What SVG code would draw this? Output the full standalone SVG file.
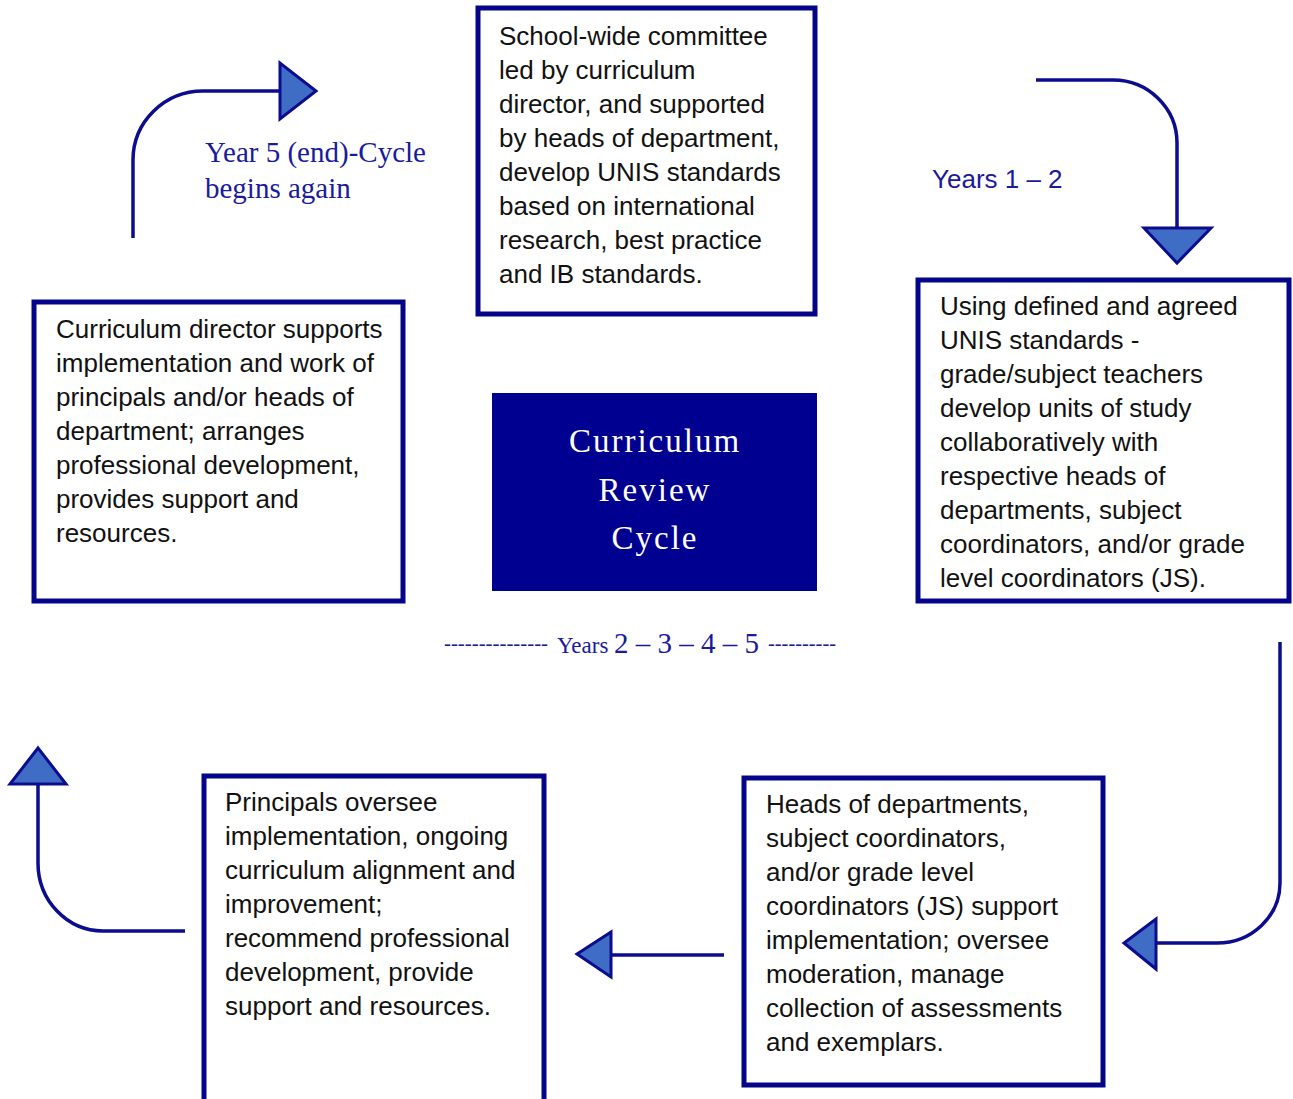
<svg xmlns="http://www.w3.org/2000/svg" width="1293" height="1099" viewBox="0 0 1293 1099">
<style>
.box{fill:#ffffff;stroke:#05058a;stroke-width:5}
.t{font-family:"Liberation Sans",Arial,sans-serif;font-size:26px;fill:#111111}
.lbl{font-family:"Liberation Serif","Times New Roman",serif;fill:#1a1a9c}
.lbls{font-family:"Liberation Sans",Arial,sans-serif;fill:#1a1a9c}
.ln{fill:none;stroke:#0c0c8e;stroke-width:3.5}
.head{fill:#3f6cc4;stroke:#0c0c8e;stroke-width:3;stroke-linejoin:miter}
.ctr{font-family:"Liberation Serif","Times New Roman",serif;font-size:33px;fill:#ffffff;letter-spacing:2px}
</style>
<rect width="1293" height="1099" fill="#ffffff"/>

<g id="connectors">
  <path class="ln" d="M133,238 V160 A70,69 0 0 1 203,91 H282"/>
  <polygon class="head" points="280,63 280,119 316,91"/>
  <path class="ln" d="M1036,80 H1113 A64,63 0 0 1 1177,143 V229"/>
  <polygon class="head" points="1144,228 1211,228 1177,263"/>
  <path class="ln" d="M1280,642 V883 A63,60 0 0 1 1217,943 H1157"/>
  <polygon class="head" points="1156,919 1156,969 1124,943"/>
  <path class="ln" d="M724,955 H611"/>
  <polygon class="head" points="611,932 611,977 577,954"/>
  <path class="ln" d="M185,931 H103 A65,68 0 0 1 38,863 V785"/>
  <polygon class="head" points="10,784 66,784 38,748"/>
</g>

<g id="label-year5">
  <text class="lbl" font-size="29" x="205" y="162">Year 5 (end)-Cycle</text>
  <text class="lbl" font-size="29" x="205" y="198">begins again</text>
</g>
<g id="label-years12">
  <text class="lbls" font-size="26" x="932" y="188">Years 1 – 2</text>
</g>
<g id="label-years2345">
  <text class="lbl" font-size="20" x="444" y="650" textLength="104" lengthAdjust="spacingAndGlyphs">---------------</text>
  <text class="lbl" x="557" y="653"><tspan font-size="23">Years </tspan><tspan font-size="29">2 – 3 – 4 – 5</tspan></text>
  <text class="lbl" font-size="20" x="768" y="650" textLength="68" lengthAdjust="spacingAndGlyphs">----------</text>
</g>

<g id="node-top">
  <rect class="box" x="478" y="8" width="337" height="306"/>
  <text class="t" x="499" y="45">School-wide committee</text>
  <text class="t" x="499" y="79">led by curriculum</text>
  <text class="t" x="499" y="113">director, and supported</text>
  <text class="t" x="499" y="147">by heads of department,</text>
  <text class="t" x="499" y="181">develop UNIS standards</text>
  <text class="t" x="499" y="215">based on international</text>
  <text class="t" x="499" y="249">research, best practice</text>
  <text class="t" x="499" y="283">and IB standards.</text>
</g>

<g id="node-left">
  <rect class="box" x="34" y="302" width="369" height="299"/>
  <text class="t" x="56" y="338">Curriculum director supports</text>
  <text class="t" x="56" y="372">implementation and work of</text>
  <text class="t" x="56" y="406">principals and/or heads of</text>
  <text class="t" x="56" y="440">department; arranges</text>
  <text class="t" x="56" y="474">professional development,</text>
  <text class="t" x="56" y="508">provides support and</text>
  <text class="t" x="56" y="542">resources.</text>
</g>

<g id="node-center">
  <rect x="492" y="393" width="325" height="198" fill="#000090"/>
  <text class="ctr" x="655" y="452" text-anchor="middle">Curriculum</text>
  <text class="ctr" x="655" y="501" text-anchor="middle">Review</text>
  <text class="ctr" x="655" y="549" text-anchor="middle">Cycle</text>
</g>

<g id="node-right">
  <rect class="box" x="918" y="280" width="371" height="321"/>
  <text class="t" x="940" y="315">Using defined and agreed</text>
  <text class="t" x="940" y="349">UNIS standards -</text>
  <text class="t" x="940" y="383">grade/subject teachers</text>
  <text class="t" x="940" y="417">develop units of study</text>
  <text class="t" x="940" y="451">collaboratively with</text>
  <text class="t" x="940" y="485">respective heads of</text>
  <text class="t" x="940" y="519">departments, subject</text>
  <text class="t" x="940" y="553">coordinators, and/or grade</text>
  <text class="t" x="940" y="587">level coordinators (JS).</text>
</g>

<g id="node-bottom-right">
  <rect class="box" x="744" y="778" width="359" height="307"/>
  <text class="t" x="766" y="813">Heads of departments,</text>
  <text class="t" x="766" y="847">subject coordinators,</text>
  <text class="t" x="766" y="881">and/or grade level</text>
  <text class="t" x="766" y="915">coordinators (JS) support</text>
  <text class="t" x="766" y="949">implementation; oversee</text>
  <text class="t" x="766" y="983">moderation, manage</text>
  <text class="t" x="766" y="1017">collection of assessments</text>
  <text class="t" x="766" y="1051">and exemplars.</text>
</g>

<g id="node-bottom-left">
  <rect class="box" x="204" y="776" width="340" height="330"/>
  <text class="t" x="225" y="811">Principals oversee</text>
  <text class="t" x="225" y="845">implementation, ongoing</text>
  <text class="t" x="225" y="879">curriculum alignment and</text>
  <text class="t" x="225" y="913">improvement;</text>
  <text class="t" x="225" y="947">recommend professional</text>
  <text class="t" x="225" y="981">development, provide</text>
  <text class="t" x="225" y="1015">support and resources.</text>
</g>
</svg>
